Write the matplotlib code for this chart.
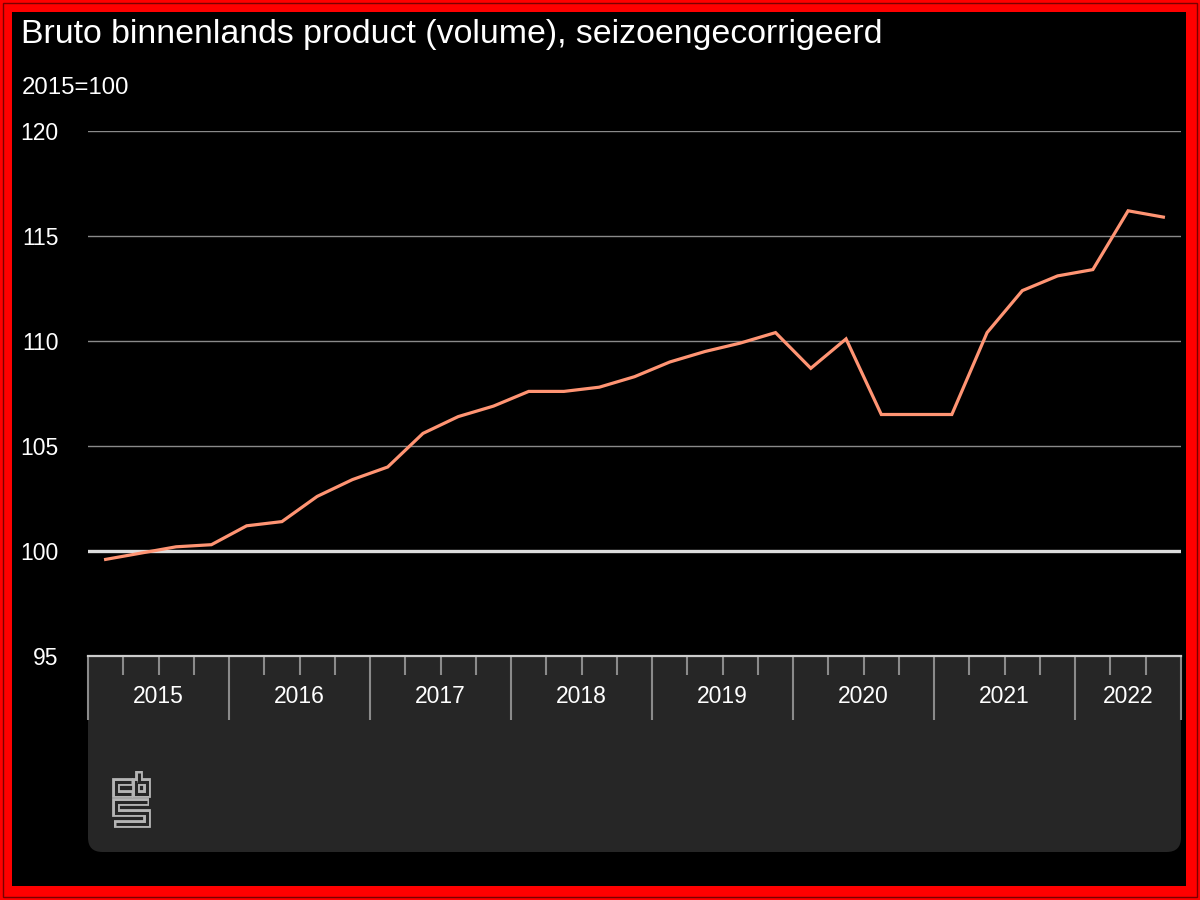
import numpy as np
import matplotlib.pyplot as plt
from matplotlib.patches import Rectangle, FancyBboxPatch

plt.rcParams['font.family'] = ['Liberation Sans', 'DejaVu Sans']

# BBP volume index (2015=100), seizoengecorrigeerd, per kwartaal 2015K1 - 2022K3
years = ['2015', '2016', '2017', '2018', '2019', '2020', '2021', '2022']
quarters_per_year = [4, 4, 4, 4, 4, 4, 4, 3]
bbp = [99.6, 99.9, 100.2, 100.3,
       101.2, 101.4, 102.6, 103.4,
       104.0, 105.6, 106.4, 106.9,
       107.6, 107.6, 107.8, 108.3,
       109.0, 109.5, 109.9, 110.4,
       108.7, 110.1, 106.5, 106.5,
       106.5, 110.4, 112.4, 113.1,
       113.4, 116.2, 115.9]
yticks = [95, 100, 105, 110, 115, 120]

W, H = 1200, 900

def fx(px):
    return px / W

def fy(py):
    return 1 - py / H

fig = plt.figure(figsize=(12, 9), dpi=100, facecolor='#ff0000')

# rode rand met zwarte binnenkant
fig.patches.append(Rectangle((fx(3), fy(897)), fx(1194), 894 / H, transform=fig.transFigure,
                             facecolor='none', edgecolor='#7a0000', lw=1.0, zorder=-3))
fig.patches.append(Rectangle((fx(12), fy(886)), fx(1174), 874 / H, transform=fig.transFigure,
                             facecolor='black', edgecolor='none', zorder=-3))

# grijs paneel onder de x-as
panel = FancyBboxPatch((fx(88), fy(852)), fx(1093), 252 / H,
                       boxstyle='round,pad=0,rounding_size=0.012',
                       transform=fig.transFigure, facecolor='#262626',
                       edgecolor='none', zorder=-2, mutation_aspect=1.33)
fig.patches.append(panel)

ax = fig.add_axes([fx(88), fy(656), fx(1181 - 88), (656 - 131) / H])
ax.set_facecolor('black')

n = sum(quarters_per_year)
x = np.arange(n) + 0.5
ax.plot(x, bbp, color='#ff9473', lw=2.3, solid_joinstyle='miter', zorder=4)

ax.set_xlim(0, n)
ax.set_ylim(95, 120)

# gridlijnen
for v in yticks[2:]:
    ax.axhline(v, color='#8a8a8a', lw=1.0, zorder=1)
ax.axhline(100, color='#dddddd', lw=2.4, zorder=2)

for s in ['top', 'right', 'left']:
    ax.spines[s].set_visible(False)
ax.spines['bottom'].set_color('#cccccc')
ax.spines['bottom'].set_linewidth(1.6)

ax.set_yticks(yticks)
ax.set_yticklabels([str(v) for v in yticks])
ax.tick_params(axis='y', length=0, pad=21, labelsize=16.5, labelcolor='white')

bounds = np.concatenate([[0], np.cumsum(quarters_per_year)])
ax.set_xticks(bounds)
ax.set_xticklabels([])
ax.set_xticks([q for q in range(n) if q not in bounds], minor=True)
ax.tick_params(axis='x', which='major', length=46, width=1.5, color='#8a8a8a', direction='out')
ax.tick_params(axis='x', which='minor', length=14, width=1.5, color='#8a8a8a', direction='out')

for i, yr in enumerate(years):
    c = (bounds[i] + bounds[i + 1]) / 2
    ax.text(c, -0.078, yr, transform=ax.get_xaxis_transform(), ha='center', va='center',
            color='white', fontsize=16.5)

fig.text(fx(21), fy(35), 'Bruto binnenlands product (volume), seizoengecorrigeerd',
         color='white', fontsize=24.4, va='center', ha='left')
fig.text(fx(22), fy(88), '2015=100', color='white', fontsize=17.3, va='center', ha='left')

# cbs logo (vereenvoudigd)
lax = fig.add_axes([fx(108), fy(832), fx(46), 66 / H])
lax.set_xlim(108, 154)
lax.set_ylim(832, 766)
lax.axis('off')
paths = [
    [(132.5, 782), (115.5, 782), (115.5, 794), (132.5, 794)],
    [(139, 770.5), (139, 782), (146.5, 782), (146.5, 794), (135.5, 794), (135.5, 782), (139, 782)],
    [(149, 801.5), (116, 801.5), (116, 812.5), (146.5, 812.5), (146.5, 823.5), (114, 823.5)],
]


def shorten(p, d):
    # inner stroke stops a bit before the ends so the outline looks closed
    p = [list(q) for q in p]
    for a, b in [(0, 1), (-1, -2)]:
        dx, dy = p[b][0] - p[a][0], p[b][1] - p[a][1]
        L = (dx ** 2 + dy ** 2) ** 0.5
        p[a][0] += dx / L * d
        p[a][1] += dy / L * d
    return p


for p in paths:
    xs, ys = zip(*p)
    lax.plot(xs, ys, color='#b5b5b5', lw=5.6, solid_capstyle='butt', solid_joinstyle='miter')
    xs, ys = zip(*shorten(p, 2.0))
    lax.plot(xs, ys, color='#262626', lw=2.2, solid_capstyle='butt', solid_joinstyle='miter')

fig.savefig('out.png', dpi=100, facecolor=fig.get_facecolor())
